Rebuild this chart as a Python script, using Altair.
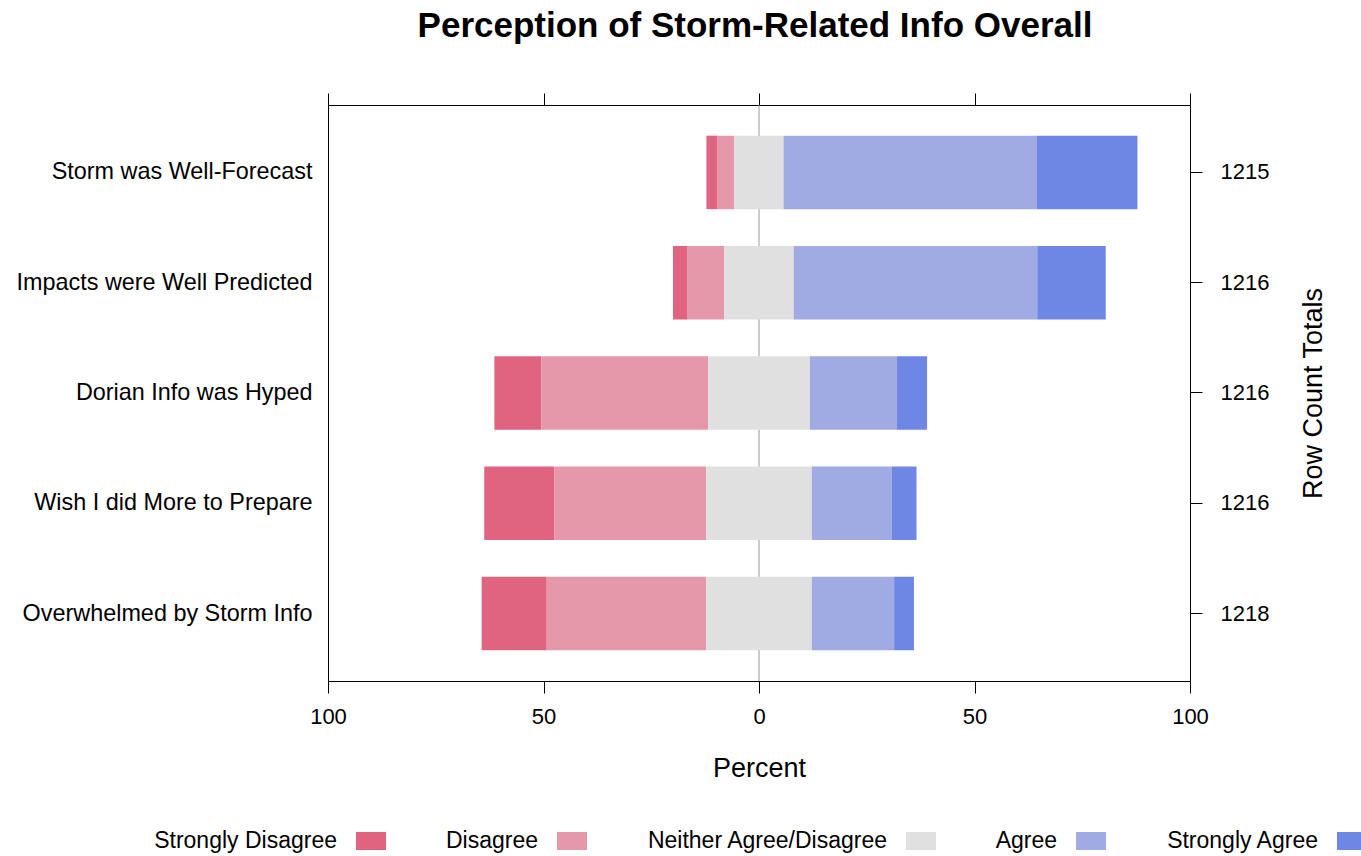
import altair as alt
import pandas as pd

# ---- data ----
items = [
    "Storm was Well-Forecast",
    "Impacts were Well Predicted",
    "Dorian Info was Hyped",
    "Wish I did More to Prepare",
    "Overwhelmed by Storm Info",
]
row_totals = [1215, 1216, 1216, 1216, 1218]
levels = ["Strongly Disagree", "Disagree", "Neither Agree/Disagree", "Agree", "Strongly Agree"]
level_colors = ["#E06380", "#E598A9", "#E0E0E0", "#A0ABE3", "#6F87E4"]

strongly_disagree = [2.6, 3.4, 10.9, 16.3, 15.1]
disagree = [3.9, 8.5, 38.7, 35.2, 37.0]
neutral = [11.4, 16.1, 23.6, 24.5, 24.5]
agree = [58.8, 56.5, 20.2, 18.5, 19.1]
strongly_agree = [23.3, 15.9, 7.0, 5.8, 4.6]

x_ticks = [-100, -50, 0, 50, 100]

FONT = "Liberation Sans"

# ---- diverging stack (neutral split around zero) ----
rows = []
for i, item in enumerate(items):
    vals = [strongly_disagree[i], disagree[i], neutral[i], agree[i], strongly_agree[i]]
    left = -(vals[0] + vals[1] + vals[2] / 2.0)
    edge = left
    for j, lev in enumerate(levels):
        rows.append({"item": item, "level": lev, "start": edge, "end": edge + vals[j]})
        edge += vals[j]
bars_df = pd.DataFrame(rows)

axis_df = pd.DataFrame({"item": items, "total": row_totals, "zero": [0] * len(items)})
zero_df = pd.DataFrame({"zero": [0]})

x_scale = alt.Scale(domain=[-100, 100], nice=False, zero=False)
y_scale = alt.Scale(domain=items, paddingInner=0.334, paddingOuter=0.278)
color_scale = alt.Scale(domain=levels, range=level_colors)

right_expr = " : ".join(
    f"datum.value == '{it}' ? '{tot}'" for it, tot in zip(items, row_totals)
) + " : ''"

# legend key drawn to the right of its (right-aligned) label
key_shape = "M2.267,-0.6H4.267V0.6H2.267Z"

zero_rule = alt.Chart(zero_df).mark_rule(color="#9a9a9a", strokeWidth=1).encode(
    x=alt.X("zero:Q", scale=x_scale, axis=None)
)

bars = alt.Chart(bars_df).mark_bar().encode(
    x=alt.X(
        "start:Q",
        scale=x_scale,
        title="Percent",
        axis=alt.Axis(
            orient="bottom", values=x_ticks, labelExpr="format(abs(datum.value), 'd')",
            tickSize=12, labelPadding=13, labelFontSize=22, labelFlush=False,
            titleFontSize=27, titlePadding=28, titleFontWeight="normal", grid=False,
        ),
    ),
    x2="end:Q",
    y=alt.Y(
        "item:N",
        scale=y_scale,
        sort=None,
        title=None,
        axis=alt.Axis(orient="left", ticks=False, tickSize=0, labelPadding=16,
                      labelFontSize=23.4, labelLimit=0),
    ),
    color=alt.Color(
        "level:N",
        scale=color_scale,
        legend=alt.Legend(
            title=None, orient="none", direction="horizontal", columns=5,
            legendX=-21, legendY=721, labelAlign="right", labelOffset=0,
            symbolType=key_shape, symbolSize=900, symbolStrokeWidth=0,
            labelFontSize=23, columnPadding=58, labelLimit=0, padding=0,
        ),
    ),
)

frame_axes = alt.Chart(axis_df).mark_point(opacity=0).encode(
    x=alt.X("zero:Q", scale=x_scale, title=None,
            axis=alt.Axis(orient="top", values=x_ticks, labels=False, tickSize=12, grid=False)),
    y=alt.Y("item:N", scale=y_scale, sort=None, title="Row Count Totals",
            axis=alt.Axis(orient="right", labelExpr=right_expr, tickSize=12, labelPadding=18,
                          labelFontSize=22, titleFontSize=27, titleFontWeight="normal",
                          titleAngle=270, titlePadding=59)),
)

chart = (
    alt.layer(zero_rule, bars, frame_axes)
    .resolve_axis(x="independent", y="independent")
    .properties(
        width=862,
        height=576,
        padding={"left": 328, "top": 105, "right": 171, "bottom": 175},
        autosize=alt.AutoSizeParams(type="none"),
        title=alt.TitleParams(
            "Perception of Storm-Related Info Overall", fontSize=35, fontWeight="bold",
            anchor="middle", baseline="alphabetic", offset=21, dx=-4, color="#000", font=FONT,
        ),
    )
    .configure(font=FONT, background="white")
    .configure_view(stroke="#000", strokeWidth=1)
    .configure_axis(
        domainColor="#000", domainWidth=1, tickColor="#000", tickWidth=1,
        labelColor="#000", titleColor="#000", labelFont=FONT, titleFont=FONT, grid=False,
    )
    .configure_legend(labelColor="#000", labelFont=FONT)
)

chart.save("out.html", embed_options={"renderer": "svg", "actions": False})
